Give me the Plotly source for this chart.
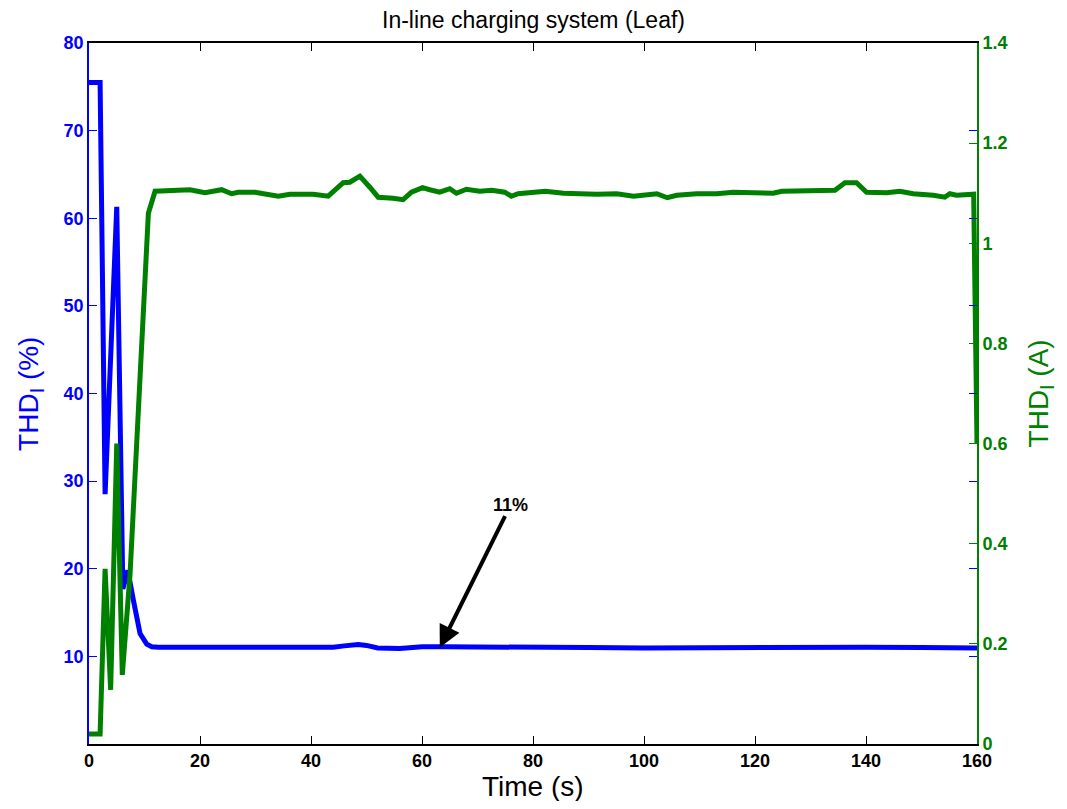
import plotly.graph_objects as go

# THD of current (%) - left axis
t_thd = [0, 2.0, 2.9, 5.0, 6.1, 7.0, 8.0, 9.2, 10.4, 11.3, 12.5, 16, 20, 24, 28, 32, 36, 40, 44, 46,
         48.5, 50, 52, 56, 58, 60, 64, 70, 80, 90, 100, 110, 120, 130, 140, 150, 160]
thd_pct = [75.5, 75.5, 28.5, 61.3, 17.7, 19.8, 16.4, 12.6, 11.4, 11.1, 11.05, 11.05, 11.05, 11.05, 11.0,
           11.0, 11.0, 11.0, 11.05, 11.2, 11.36, 11.25, 10.95, 10.9, 11.0, 11.1, 11.1, 11.05, 11.0, 11.0,
           10.95, 11.0, 11.05, 11.05, 11.05, 11.0, 10.95]

# THD of current (A) - right axis
t_amp = [0, 2.0, 2.9, 3.9, 5.0, 6.0, 7.4, 8.3, 9.2, 10.7, 11.9, 15.2, 18.2, 20.9, 23.9, 25.7, 26.9, 29.9,
         34.1, 36.2, 38.9, 40.4, 43.1, 45.8, 47.0, 48.8, 50.6, 52.1, 54.8, 56.6, 58.1, 60.1, 61.4, 63.2,
         65.0, 66.2, 68.0, 70.4, 72.6, 74.9, 76.1, 77.3, 82.2, 85.5, 91.5, 95.1, 98.1, 102.3, 104.2, 105.9,
         109.5, 113.1, 116.1, 122.1, 123.3, 124.8, 128.1, 132.9, 134.4, 136.2, 138.3, 140.1, 143.7, 146.1,
         148.5, 152.1, 154.2, 155.1, 156.3, 159.4, 160]
thd_amp = [0.02, 0.02, 0.35, 0.108, 0.60, 0.138, 0.34, 0.547, 0.767, 1.06, 1.104, 1.106, 1.107, 1.101,
           1.107, 1.099, 1.102, 1.102, 1.094, 1.098, 1.099, 1.098, 1.094, 1.121, 1.122, 1.134, 1.112, 1.092,
           1.090, 1.087, 1.102, 1.111, 1.107, 1.102, 1.109, 1.100, 1.108, 1.104, 1.106, 1.102, 1.094, 1.099,
           1.104, 1.100, 1.098, 1.099, 1.094, 1.099, 1.091, 1.096, 1.099, 1.099, 1.102, 1.102, 1.100, 1.104,
           1.104, 1.106, 1.106, 1.121, 1.121, 1.102, 1.101, 1.104, 1.099, 1.096, 1.092, 1.099, 1.096, 1.098,
           0.60]

x_ticks = [0, 20, 40, 60, 80, 100, 120, 140, 160]
y1_ticks = [10, 20, 30, 40, 50, 60, 70, 80]
y2_ticks = [0, 0.2, 0.4, 0.6, 0.8, 1, 1.2, 1.4]
y2_labels = ["0", "0.2", "0.4", "0.6", "0.8", "1", "1.2", "1.4"]

BLUE = "#0000ff"
GREEN = "#008000"
FONT = "Liberation Sans, Arial, sans-serif"

fig = go.Figure()
fig.add_trace(go.Scatter(x=t_thd, y=thd_pct, mode="lines", line=dict(color=BLUE, width=5),
                         yaxis="y", showlegend=False))
fig.add_trace(go.Scatter(x=t_amp, y=thd_amp, mode="lines", line=dict(color=GREEN, width=5),
                         yaxis="y2", showlegend=False))

fig.add_annotation(x=63.2, y=11, xref="x", yref="y", text="<b>11%</b>",
                   showarrow=True, arrowhead=2, arrowsize=1.1, arrowwidth=4, arrowcolor="black",
                   ax=71, ay=-143, font=dict(size=18, color="black", family=FONT))

# axis titles as annotations so they can be placed like the original
fig.add_annotation(x=0.5, y=-0.060, xref="paper", yref="paper", text="Time (s)",
                   showarrow=False, xanchor="center", yanchor="middle",
                   font=dict(size=28, color="black", family=FONT))
fig.add_annotation(x=-0.066, y=0.5, xref="paper", yref="paper", text="THD<sub>I</sub> (%)",
                   textangle=-90, showarrow=False, xanchor="center", yanchor="middle",
                   font=dict(size=28, color=BLUE, family=FONT))
fig.add_annotation(x=1.072, y=0.5, xref="paper", yref="paper", text="THD<sub>I</sub> (A)",
                   textangle=-90, showarrow=False, xanchor="center", yanchor="middle",
                   font=dict(size=28, color=GREEN, family=FONT))

fig.update_layout(
    width=1051, height=793,
    margin=dict(l=81, r=82, t=35, b=57),
    paper_bgcolor="white", plot_bgcolor="white",
    font=dict(family=FONT),
    title=dict(text="In-line charging system (Leaf)", x=0.5, xanchor="center", y=1 - 12 / 793,
               yanchor="middle", font=dict(size=23, color="black", family=FONT)),
    xaxis=dict(range=[0, 160], tickvals=x_ticks, ticks="inside", ticklen=8, tickcolor="black",
               showline=True, linecolor="black", linewidth=1.5, mirror="ticks",
               showgrid=False, zeroline=False, automargin=False,
               tickfont=dict(size=18, color="black", family=FONT, weight="bold")),
    yaxis=dict(range=[0, 80], tickvals=y1_ticks, ticks="inside", ticklen=8, tickcolor=BLUE,
               showline=True, linecolor=BLUE, linewidth=1.5, mirror="ticks",
               showgrid=False, zeroline=False, automargin=False,
               tickfont=dict(size=18, color=BLUE, family=FONT, weight="bold")),
    yaxis2=dict(range=[0, 1.4], tickvals=y2_ticks, ticktext=y2_labels, overlaying="y", side="right",
                ticks="inside", ticklen=8, tickcolor=GREEN,
                showline=True, linecolor=GREEN, linewidth=2,
                showgrid=False, zeroline=False, automargin=False,
                tickfont=dict(size=18, color=GREEN, family=FONT, weight="bold")),
)

fig.write_html("out.html")
